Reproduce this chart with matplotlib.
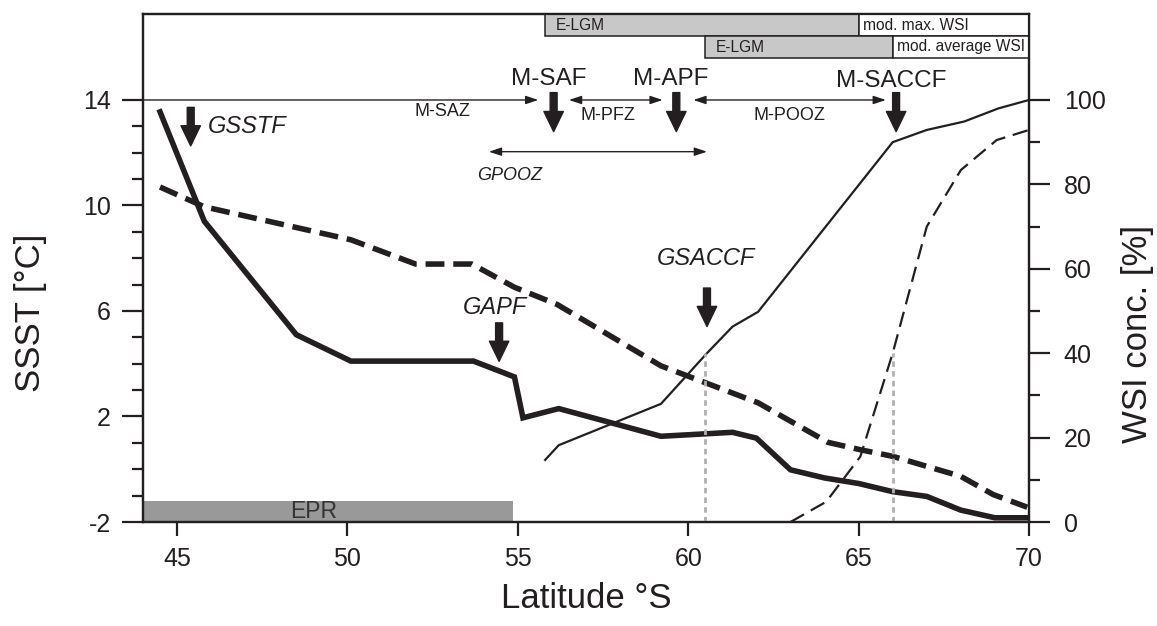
import matplotlib
matplotlib.use('Agg')
import matplotlib.pyplot as plt
import matplotlib.transforms as mtransforms
from matplotlib.patches import Rectangle

plt.rcParams['font.family'] = ['Liberation Sans', 'DejaVu Sans']
plt.rcParams['axes.unicode_minus'] = False
INK = '#231f20'

# summer SST profiles along the transect (left axis, deg C)
ssst_solid_lat = [44.5, 45.8, 48.5, 50.1, 53.7, 54.9, 55.15, 56.2, 59.2, 61.3, 62.0,
                  63.0, 64.0, 65.0, 66.0, 67.0, 68.0, 69.0, 70.0]
ssst_solid = [13.55, 9.4, 5.1, 4.1, 4.1, 3.5, 1.95, 2.3, 1.25, 1.4, 1.18,
              -0.02, -0.33, -0.54, -0.85, -1.03, -1.55, -1.84, -1.84]

ssst_dashed_lat = [44.5, 45.8, 50.1, 52.0, 53.65, 54.9, 56.15, 59.2, 62.05, 63.1, 64.1,
                   65.05, 66.0, 67.0, 68.0, 68.95, 69.95]
ssst_dashed = [10.7, 9.95, 8.7, 7.78, 7.78, 6.9, 6.25, 3.92, 2.52, 1.75, 1.02,
               0.74, 0.49, 0.11, -0.27, -0.96, -1.44]

# winter sea-ice concentration (right axis, %)
wsi_solid_lat = [55.8, 56.2, 59.2, 60.55, 61.3, 62.05, 66.0, 67.0, 68.1, 69.1, 70.0]
wsi_solid = [14.7, 18.2, 28.0, 40.0, 46.3, 49.8, 90.0, 92.9, 94.9, 98.0, 100.0]

wsi_dashed_lat = [63.0, 64.05, 65.05, 66.0, 67.0, 68.0, 69.05, 70.0]
wsi_dashed = [0.0, 4.8, 15.5, 40.0, 70.0, 83.4, 90.5, 92.9]

# 40 % sea-ice edge markers
wsi_edge_lat = [60.5, 66.0]
wsi_edge = 40

# fronts (latitude) and zone bounds
front_saf, front_apf, front_saccf = 56.05, 59.65, 66.1
geo_sstf, geo_apf, geo_saccf = 45.4, 54.45, 60.55
gpooz_span = (54.15, 60.55)

# E-LGM / modern sea-ice extent bars at the top
lgm_max = (55.8, 65.0)
lgm_avg = (60.5, 66.0)
epr_span = (44.0, 54.85)

fig = plt.figure(figsize=(11.57, 6.26), dpi=100)
ax = fig.add_axes([143 / 1157, 1 - 522 / 626, 886 / 1157, 508 / 626])
ytop = 17.26
ax.set_xlim(44, 70)
ax.set_ylim(-2, ytop)

ax2 = ax.twinx()
ax2.set_ylim(0, (ytop + 2) * 100 / 16)

ax.plot(ssst_solid_lat, ssst_solid, color=INK, lw=4.0, solid_joinstyle='miter')
ax.plot(ssst_dashed_lat, ssst_dashed, color=INK, lw=4.0, linestyle=(0, (3.4, 1.6)))
ax2.plot(wsi_solid_lat, wsi_solid, color=INK, lw=1.6)
ax2.plot(wsi_dashed_lat, wsi_dashed, color=INK, lw=1.6, linestyle=(0, (7, 3.5)))
ax2.vlines(wsi_edge_lat, 0, wsi_edge, colors='#b0b0b0', lw=2.0, linestyles=(0, (2, 1.5)))

# EPR bar along the bottom
ax.add_patch(Rectangle((epr_span[0], -2), epr_span[1] - epr_span[0], 0.8,
                       facecolor='#999999', edgecolor='none', zorder=1))
ax.text(49.0, -1.6, 'EPR', ha='center', va='center', fontsize=16.5, color='#333333')

# top bars
bt = mtransforms.blended_transform_factory(ax.transData, ax.transAxes)
row_h = 22 / 508
for (x0, x1), y0, lab in [(lgm_max, 1 - row_h, 'mod. max. WSI'),
                          (lgm_avg, 1 - 2 * row_h, 'mod. average WSI')]:
    ax.add_patch(Rectangle((x0, y0), x1 - x0, row_h, transform=bt, facecolor='#c8c8c8',
                           edgecolor=INK, lw=1.1, clip_on=False, zorder=3))
    ax.add_patch(Rectangle((x1, y0), 70 - x1, row_h, transform=bt, facecolor='white',
                           edgecolor=INK, lw=1.1, clip_on=False, zorder=3))
    ax.text(x0 + 0.3, y0 + row_h / 2, 'E-LGM', transform=bt, ha='left', va='center',
            fontsize=11.2, color=INK, zorder=4)
    ax.text(x1 + 0.12, y0 + row_h / 2, lab, transform=bt, ha='left', va='center',
            fontsize=11.2, color=INK, zorder=4)


def down_arrow(x, y0, y1):
    ax.annotate('', xy=(x, y1), xytext=(x, y0),
                arrowprops=dict(arrowstyle='simple,head_length=1.45,head_width=1.4,tail_width=0.5',
                                mutation_scale=10, color=INK, shrinkA=0, shrinkB=0))


def zone_arrow(x0, x1, y, style):
    ax.annotate('', xy=(x1, y), xytext=(x0, y),
                arrowprops=dict(arrowstyle=style + ',head_length=0.75,head_width=0.25',
                                mutation_scale=10, lw=1.0, color=INK, shrinkA=0, shrinkB=0))


# model fronts
for x, lab, yl in [(front_saf, 'M-SAF', 14.58), (front_apf, 'M-APF', 14.56),
                   (front_saccf, 'M-SACCF', 14.5)]:
    down_arrow(x, 14.28, 12.8)
    ax.text(x - 0.15, yl, lab, ha='center', va='baseline', fontsize=17.5, color=INK)

zone_arrow(44.0, front_saf - 0.45, 14.0, '-|>')
zone_arrow(front_saf + 0.45, front_apf - 0.4, 14.0, '<|-|>')
zone_arrow(front_apf + 0.5, front_saccf - 0.3, 14.0, '<|-|>')
ax.text(52.8, 13.55, 'M-SAZ', ha='center', va='center', fontsize=13, color=INK)
ax.text(57.66, 13.42, 'M-PFZ', ha='center', va='center', fontsize=13, color=INK)
ax.text(62.96, 13.42, 'M-POOZ', ha='center', va='center', fontsize=13, color=INK)

zone_arrow(gpooz_span[0], gpooz_span[1], 12.04, '<|-|>')
ax.text(54.75, 11.15, 'GPOOZ', ha='center', va='center', fontsize=13, style='italic', color=INK)

# geological fronts
down_arrow(geo_sstf, 13.72, 12.26)
ax.text(45.9, 13.0, 'GSSTF', ha='left', va='center', fontsize=17, style='italic', color=INK)
down_arrow(geo_apf, 5.55, 4.09)
ax.text(54.33, 6.14, 'GAPF', ha='center', va='center', fontsize=17, style='italic', color=INK)
down_arrow(geo_saccf, 6.87, 5.41)
ax.text(60.52, 7.98, 'GSACCF', ha='center', va='center', fontsize=17, style='italic', color=INK)

# axes styling
for a in (ax, ax2):
    for s in a.spines.values():
        s.set_linewidth(1.6)
        s.set_color(INK)

ax.set_xticks([45, 50, 55, 60, 65, 70])
ax.set_yticks([-2, 2, 6, 10, 14])
ax.set_yticks([v for v in range(-1, 14) if (v + 2) % 4], minor=True)
ax.tick_params(axis='x', direction='out', length=10, width=1.6, labelsize=18, pad=8,
               colors=INK)
ax.tick_params(axis='y', which='major', direction='out', length=15, width=1.6, labelsize=18,
               pad=8, colors=INK)
ax.tick_params(axis='y', which='minor', direction='out', length=8, width=1.6, colors=INK)

ax2.set_yticks(range(0, 101, 20))
ax2.set_yticks(range(10, 100, 20), minor=True)
ax2.tick_params(axis='y', which='major', direction='out', length=15, width=1.6, labelsize=18,
                pad=10, colors=INK)
ax2.tick_params(axis='y', which='minor', direction='out', length=8, width=1.6, colors=INK)

ax.set_xlabel('Latitude °S', fontsize=25, color=INK)
ax.xaxis.set_label_coords(0.5, -0.15)
ax.xaxis.label.set_va('center')
ax.set_ylabel('SSST [°C]', fontsize=25, color=INK)
ax.yaxis.set_label_coords(-0.1275, 0.411)
ax.yaxis.label.set_va('center')
ax2.set_ylabel('WSI conc. [%]', fontsize=25, color=INK)
ax2.yaxis.set_label_coords(1.122, 0.37)
ax2.yaxis.label.set_va('center')

fig.savefig('out.png', dpi=100)
